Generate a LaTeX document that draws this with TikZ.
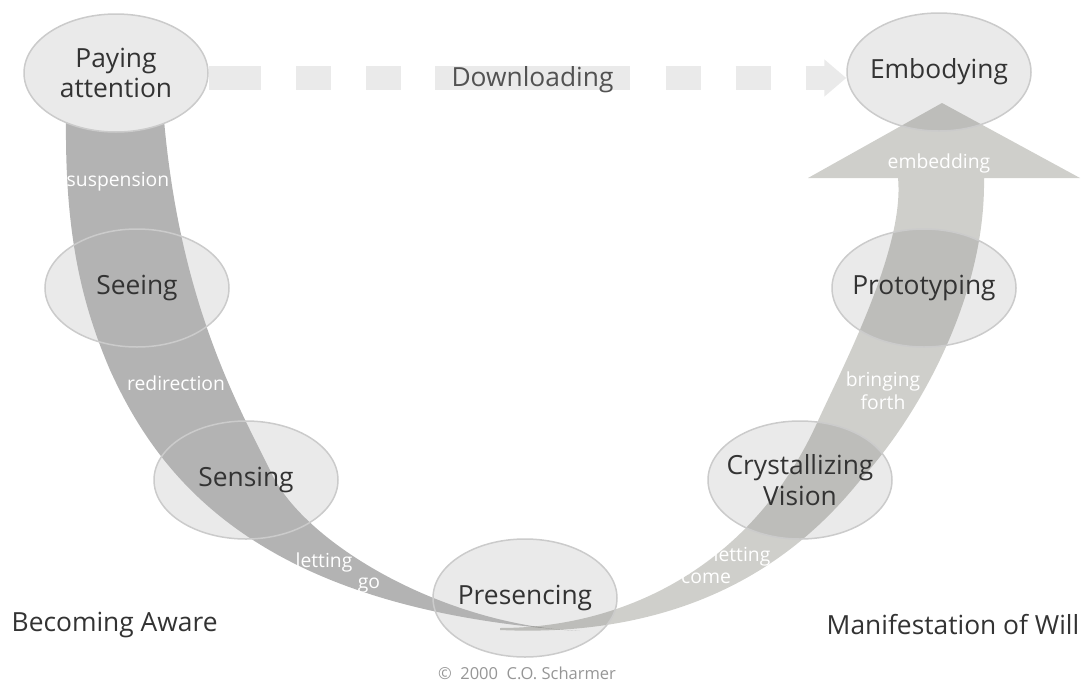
\documentclass[tikz,border=0pt]{standalone}
\usepackage{fontspec}
\setmainfont{Open Sans}
\usepackage{tikz}
\usetikzlibrary{arrows.meta,positioning,shapes.geometric,calc}
\definecolor{uoval}{RGB}{234,234,234}
\definecolor{uedge}{RGB}{203,203,203}
\definecolor{udark}{RGB}{179,179,179}
\definecolor{ulight}{RGB}{207,207,203}
\definecolor{utext}{RGB}{51,51,51}
\definecolor{ucopy}{RGB}{150,150,150}
\pgfdeclarelayer{bg}
\pgfdeclarelayer{mid}
\pgfsetlayers{bg,mid,main}

\begin{document}
\begin{tikzpicture}[x=1cm, y=-1cm,
  every node/.style={inner sep=0pt},
  stage/.style={ellipse, draw=uedge, line width=0.015cm, minimum width=1.84cm, minimum height=1.18cm,
    inner xsep=-0.15cm, inner ysep=0pt, align=center, text=utext, font=\fontsize{7.5}{8.7}\selectfont},
  flow/.style={align=center, text=white, font=\fontsize{5.5}{6.5}\selectfont},
  side/.style={text=utext, font=\fontsize{7.5}{8.7}\selectfont},
  dlband/.style={draw=uoval, line width=0.24cm}]
\useasboundingbox (0,0) rectangle (10.85,6.81);

\node[stage] (attn) at (1.16,0.73) {Paying\\attention};
\node[stage] (seeing) at (1.37,2.88) {Seeing};
\node[stage] (sensing) at (2.46,4.80) {Sensing};
\node[stage] (presencing) at (5.25,5.98) {Presencing};
\node[stage] (crystal) at (8.00,4.80) {Crystallizing\\Vision};
\node[stage] (proto) at (9.24,2.88) {Prototyping};
\node[stage] (embody) at (9.39,0.72) {Embodying};

\node[side, fill=uoval, minimum width=1.95cm, text height=0.2cm, text depth=0.04cm, text=utext!85] (dl) at (5.325,0.78) {Downloading};

\node[flow] (susp) at (1.18,1.82) {suspension};
\node[flow] (redir) at (1.76,3.83) {redirection};
\node[flow] (letgo) at (3.24,5.62) {letting};
\node[flow] (go) at (3.69,5.86) {go};
\node[flow] (letcome) at (7.42,5.56) {letting};
\node[flow] (come) at (7.06,5.78) {come};
\node[flow] (forth) at (8.83,3.905) {bringing\\forth};
\node[flow] (embed) at (9.39,1.63) {embedding};

\node[side, anchor=west] (aware) at (0.11,6.25) {Becoming Aware};
\node[side, anchor=east] (will) at (10.80,6.25) {Manifestation of Will};
\node[text=ucopy, font=\fontsize{4.7}{5.5}\selectfont] (copy) at (5.27,6.73) {©~~2000~~C.O.~Scharmer};

\begin{pgfonlayer}{bg}
\draw[dlband, dash pattern=on 0.52cm off 0.35cm on 0.35cm off 0.35cm on 0.35cm off 0.35cm] (attn.east |- dl) -- (dl.west);
\draw[dlband, dash pattern=on 0.35cm off 0.35cm, dash phase=0.35cm, -{Triangle[length=0.22cm,width=0.36cm]}] (dl.east) -- (embody.west |- dl);
\foreach \n in {attn,seeing,sensing,presencing,crystal,proto,embody}
  \fill[uoval] (\n.center) ellipse [x radius=0.92, y radius=0.59];
\end{pgfonlayer}

\begin{pgfonlayer}{mid}
% going down: becoming aware
\fill[udark] (0.66,1.20) .. controls (0.65,2.30) and (0.80,3.00) .. (1.10,3.70)
  .. controls (1.60,4.80) and (2.60,6.10) .. (5.80,6.31)
  .. controls (4.40,6.25) and (3.00,5.40) .. (2.70,4.70)
  .. controls (2.35,4.00) and (1.80,3.00) .. (1.64,1.20) -- cycle;
% going up: manifestation of will
\fill[ulight, blend mode=multiply] (5.00,6.28) .. controls (6.20,6.28) and (7.50,5.70) .. (8.17,4.23)
  .. controls (8.40,3.72) and (9.05,2.50) .. (8.98,1.78)
  -- (8.08,1.78) -- (9.42,1.03) -- (10.80,1.78) -- (9.84,1.78)
  .. controls (9.86,3.00) and (9.15,4.20) .. (8.62,4.78)
  .. controls (8.20,5.30) and (7.20,6.40) .. (5.00,6.30) -- cycle;
\fill[uoval] (attn.center) ellipse [x radius=0.92, y radius=0.59];
\end{pgfonlayer}
\end{tikzpicture}
\end{document}
